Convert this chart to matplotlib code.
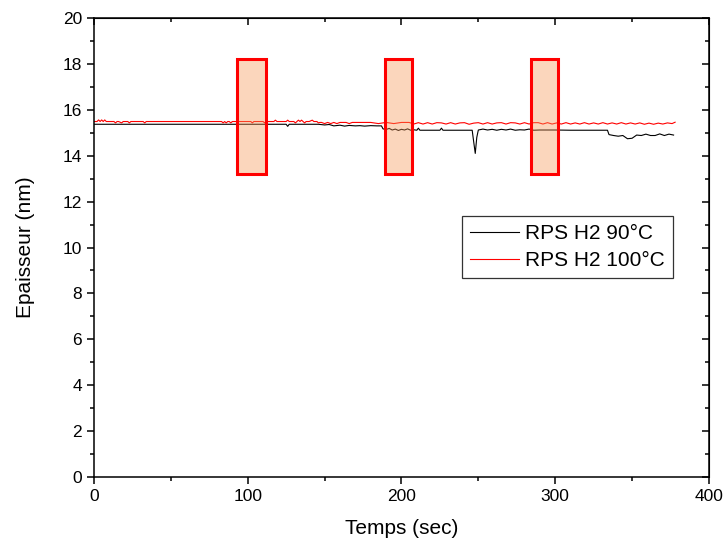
import matplotlib
matplotlib.use("Agg")
import matplotlib.pyplot as plt
from matplotlib.patches import Rectangle
from matplotlib.ticker import MultipleLocator

plt.rcParams['font.family'] = ['Liberation Sans', 'DejaVu Sans']

# ---- data ----
t_black = [0, 20, 40, 60, 80, 100, 120, 125, 126, 127,
           140, 146, 150, 153, 156, 160, 163, 166, 170, 173,
           176, 180, 184, 187, 188, 190, 192, 194, 196, 198,
           200, 202, 204, 206, 208, 210, 211, 212, 220, 225,
           226, 227, 240, 246, 247, 248, 249, 250, 253, 256,
           259, 262, 265, 268, 271, 274, 277, 280, 283, 286,
           290, 295, 300, 310, 320, 330, 334, 335, 338, 341,
           344, 347, 350, 353, 356, 359, 362, 365, 368, 371,
           374, 377]
v_black = [15.37, 15.37, 15.37, 15.37, 15.37, 15.37, 15.37, 15.37, 15.28, 15.37,
           15.37, 15.37, 15.34, 15.36, 15.30, 15.33, 15.29, 15.32, 15.30, 15.31,
           15.29, 15.31, 15.30, 15.30, 15.17, 15.14, 15.19, 15.12, 15.16, 15.10,
           15.15, 15.12, 15.17, 15.11, 15.13, 15.11, 15.20, 15.11, 15.11, 15.11,
           15.20, 15.11, 15.11, 15.11, 14.60, 14.10, 14.80, 15.12, 15.16, 15.12,
           15.15, 15.11, 15.15, 15.12, 15.16, 15.11, 15.13, 15.12, 15.16, 15.11,
           15.12, 15.12, 15.12, 15.11, 15.11, 15.11, 15.11, 14.92, 14.88, 14.85,
           14.88, 14.74, 14.76, 14.90, 14.88, 14.94, 14.88, 14.88, 14.95, 14.88,
           14.94, 14.90]

t_red = [0, 2, 3, 4, 5, 6, 7, 8, 9, 11,
         13, 14, 15, 16, 18, 19, 20, 22, 23, 24,
         26, 30, 32, 33, 34, 40, 60, 80, 83, 84,
         85, 86, 87, 88, 89, 90, 92, 94, 96, 100,
         102, 103, 104, 108, 110, 111, 112, 117, 118, 119,
         125, 126, 127, 130, 131, 132, 133, 134, 135, 136,
         137, 138, 140, 142, 143, 144, 145, 146, 147, 148,
         150, 152, 154, 156, 158, 160, 162, 164, 166, 168,
         170, 172, 174, 176, 178, 180, 185, 190, 195, 200,
         205, 208, 211, 214, 217, 220, 223, 226, 229, 232,
         235, 238, 241, 244, 247, 250, 253, 256, 259, 262,
         265, 268, 271, 274, 277, 280, 283, 286, 289, 292,
         295, 298, 301, 304, 307, 310, 313, 316, 319, 322,
         325, 328, 331, 334, 337, 340, 343, 346, 349, 352,
         355, 358, 361, 364, 367, 370, 373, 376, 378]
v_red = [15.49, 15.49, 15.56, 15.49, 15.56, 15.49, 15.56, 15.49, 15.49, 15.49,
         15.49, 15.43, 15.49, 15.49, 15.43, 15.49, 15.49, 15.49, 15.43, 15.49,
         15.49, 15.49, 15.49, 15.43, 15.49, 15.49, 15.49, 15.49, 15.49, 15.43,
         15.49, 15.43, 15.49, 15.49, 15.43, 15.49, 15.49, 15.49, 15.49, 15.49,
         15.49, 15.43, 15.49, 15.49, 15.49, 15.43, 15.49, 15.49, 15.55, 15.49,
         15.49, 15.55, 15.49, 15.49, 15.43, 15.49, 15.55, 15.49, 15.55, 15.49,
         15.43, 15.49, 15.49, 15.55, 15.49, 15.49, 15.49, 15.43, 15.45, 15.45,
         15.40, 15.45, 15.40, 15.45, 15.40, 15.45, 15.45, 15.45, 15.40, 15.45,
         15.45, 15.45, 15.45, 15.45, 15.45, 15.45, 15.40, 15.45, 15.40, 15.45,
         15.45, 15.38, 15.44, 15.38, 15.44, 15.38, 15.44, 15.43, 15.38, 15.44,
         15.38, 15.43, 15.44, 15.37, 15.42, 15.44, 15.38, 15.44, 15.38, 15.43,
         15.44, 15.38, 15.44, 15.43, 15.38, 15.44, 15.38, 15.44, 15.44, 15.38,
         15.44, 15.38, 15.43, 15.38, 15.44, 15.38, 15.43, 15.38, 15.44, 15.38,
         15.43, 15.38, 15.44, 15.38, 15.43, 15.38, 15.44, 15.38, 15.43, 15.38,
         15.43, 15.37, 15.42, 15.37, 15.42, 15.38, 15.43, 15.40, 15.46]

box_start = [93, 189, 284]
box_end = [112, 207, 302]
box_low = 13.2
box_high = 18.2

series_labels = ['RPS H2 90°C', 'RPS H2 100°C']
x_label = 'Temps (sec)'
y_label = 'Epaisseur (nm)'

# ---- figure ----
fig = plt.figure(figsize=(7.24, 5.46), dpi=100)
ax = fig.add_axes([0.1298, 0.1264, 0.8494, 0.8406])

ax.plot(t_black, v_black, color='black', lw=0.8, label=series_labels[0], zorder=2)
ax.plot(t_red, v_red, color='#ff0000', lw=0.8, label=series_labels[1], zorder=2)

for x0, x1 in zip(box_start, box_end):
    ax.add_patch(Rectangle((x0, box_low), x1 - x0, box_high - box_low,
                           facecolor=(0.96, 0.6, 0.35, 0.4), edgecolor='#ff0000',
                           lw=2.2, zorder=3))

ax.set_xlim(0, 400)
ax.set_ylim(0, 20)
ax.xaxis.set_major_locator(MultipleLocator(100))
ax.xaxis.set_minor_locator(MultipleLocator(50))
ax.yaxis.set_major_locator(MultipleLocator(2))
ax.yaxis.set_minor_locator(MultipleLocator(1))

for s in ax.spines.values():
    s.set_linewidth(1.1)

ax.tick_params(axis='both', which='major', direction='out', length=5, width=1.1,
               labelsize=12.5, colors='black')
ax.tick_params(axis='both', which='minor', direction='out', length=3, width=1.1)

# inward ticks on top and right via secondary axes
axt = ax.secondary_xaxis('top')
axt.xaxis.set_major_locator(MultipleLocator(100))
axt.xaxis.set_minor_locator(MultipleLocator(50))
axt.tick_params(which='major', direction='in', length=5, width=1.1, labeltop=False)
axt.tick_params(which='minor', direction='in', length=3, width=1.1)
axr = ax.secondary_yaxis('right')
axr.yaxis.set_major_locator(MultipleLocator(2))
axr.yaxis.set_minor_locator(MultipleLocator(1))
axr.tick_params(which='major', direction='in', length=5, width=1.1, labelright=False)
axr.tick_params(which='minor', direction='in', length=3, width=1.1)

ax.set_xlabel(x_label, fontsize=15, labelpad=11)
ax.set_ylabel(y_label, fontsize=15, labelpad=20)

leg = ax.legend(loc='upper right', bbox_to_anchor=(0.9415, 0.5686), fontsize=15,
                frameon=True, fancybox=False, borderpad=0.38, handlelength=2.35,
                handletextpad=0.3, labelspacing=0.4, borderaxespad=0)
leg.get_frame().set_edgecolor('black')
leg.get_frame().set_linewidth(0.9)

fig.savefig('out.png', dpi=100)
